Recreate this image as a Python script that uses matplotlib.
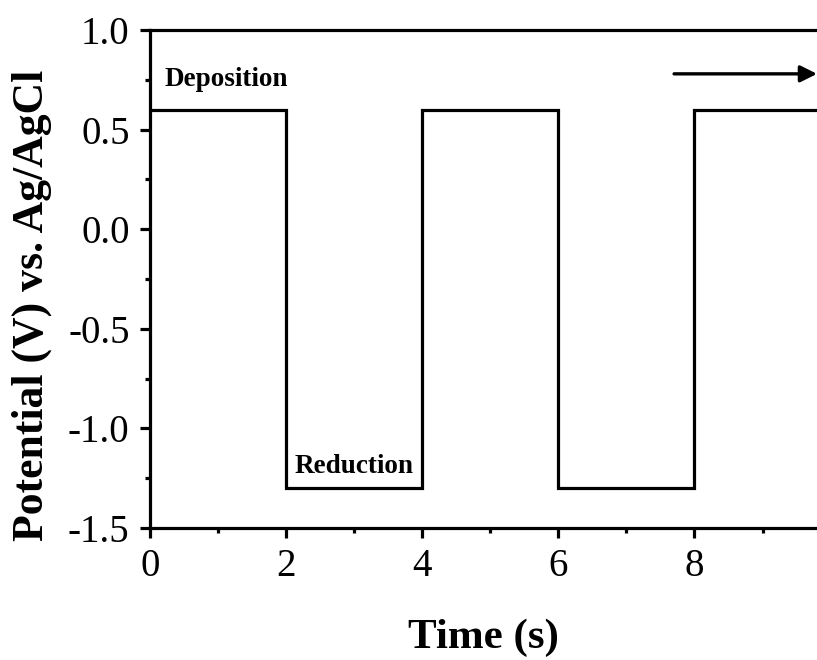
import numpy as np
import matplotlib
matplotlib.use('Agg')
import matplotlib.pyplot as plt
from matplotlib.ticker import MultipleLocator

# 电位阶跃波形数据
time_s = [0, 2, 2, 4, 4, 6, 6, 8, 8, 9.8]
potential_v = [0.6, 0.6, -1.3, -1.3, 0.6, 0.6, -1.3, -1.3, 0.6, 0.6]

plt.rcParams['font.family'] = ['Liberation Serif', 'DejaVu Serif']

fig = plt.figure(figsize=(8.17, 6.6), dpi=100)
ax = fig.add_axes([0.1836, 0.2, 0.8164, 0.7545])

ax.plot(time_s, potential_v, color='black', linewidth=2.3, solid_joinstyle='miter')

ax.set_xlim(0, 9.8)
ax.set_ylim(-1.5, 1.0)
ax.xaxis.set_minor_locator(MultipleLocator(1))
ax.yaxis.set_minor_locator(MultipleLocator(0.25))
ax.set_xticks([0, 2, 4, 6, 8])
ax.set_yticks([-1.5, -1.0, -0.5, 0.0, 0.5, 1.0])
ax.set_yticklabels(['-1.5', '-1.0', '-0.5', '0.0', '0.5', '1.0'])

for side in ['left', 'bottom', 'top']:
    ax.spines[side].set_linewidth(2.3)
ax.spines['right'].set_visible(False)

ax.tick_params(which='major', direction='out', length=7.2, width=2.3, labelsize=28,
               top=False, right=False)
ax.tick_params(axis='x', which='major', pad=7.5)
ax.tick_params(axis='y', which='major', pad=7.5)
ax.tick_params(which='minor', direction='out', length=3.6, width=2.3, top=False, right=False)

ax.set_xlabel('Time (s)', fontsize=31, fontweight='bold', labelpad=24)
ax.set_ylabel('Potential (V) vs. Ag/AgCl', fontsize=31.5, fontweight='bold')
ax.yaxis.set_label_coords(-0.147, 0.448)

ax.text(0.22, 0.75, 'Deposition', fontsize=19.5, fontweight='bold', va='center', ha='left')
ax.text(2.13, -1.19, 'Reduction', fontsize=19.5, fontweight='bold', va='center', ha='left')

ax.annotate('', xy=(9.8, 0.78), xytext=(7.7, 0.78),
            arrowprops=dict(arrowstyle='-|>', color='black', lw=2.4,
                            mutation_scale=25, shrinkA=0, shrinkB=0),
            annotation_clip=False)

fig.savefig('out.png', dpi=100)
